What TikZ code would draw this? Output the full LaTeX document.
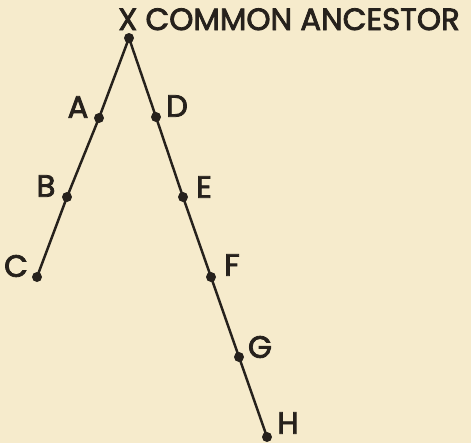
\documentclass[tikz,border=0pt]{standalone}
\usepackage{fontspec}
\setmainfont{Poppins}
\newfontfamily\lblfont{Poppins}[FakeBold=2.6]
\usetikzlibrary{positioning}
\definecolor{paper}{RGB}{246,235,204}
\definecolor{ink}{RGB}{38,33,28}
\newcommand{\unitpx}{*0.02cm}
\tikzset{
    pt/.style={circle, fill=ink, inner sep=0pt, minimum size=10\unitpx},
    lbl/.style={text=ink, inner sep=0pt, font=\fontsize{17.5}{18}\lblfont},
    lblL/.style={label={[lbl, xshift=-21\unitpx, yshift=11\unitpx]center:#1}},
}
\begin{document}
\begin{tikzpicture}[x=0.02cm, y=-0.02cm, line width=1.4pt]
    % 背景
    \fill[paper] (0,0) rectangle (471,443);
    \useasboundingbox (0,0) rectangle (471,443);

    % 共同祖先
    \node[pt] (x) at (129,38) {};
    \node[lbl, anchor=base west] (xname) at (117,30) {X COMMON ANCESTOR};

    % 左支
    \node[pt, lblL=A] (a) at (99,118) {};
    \node[pt, lblL=B] (b) at (67,197) {};
    \node[pt, lblL=C] (c) at (37,277) {};

    % 右支
    \node[pt, label={[lbl, xshift=21\unitpx, yshift=11\unitpx]center:D}] (d) at (156,117) {};
    \node[pt, label={[lbl, xshift=21\unitpx, yshift=10\unitpx]center:E}] (e) at (183,197) {};
    \node[pt, label={[lbl, xshift=21\unitpx, yshift=12\unitpx]center:F}] (f) at (211,277) {};
    \node[pt, label={[lbl, xshift=21\unitpx, yshift=10\unitpx]center:G}] (g) at (239,357) {};
    \node[pt, label={[lbl, xshift=21\unitpx, yshift=14\unitpx]center:H}] (h) at (267,437) {};

    \draw[ink] (x.center) -- (a.center) -- (b.center) -- (c.center);
    \draw[ink] (x.center) -- (d.center) -- (e.center) -- (f.center) -- (g.center) -- (h.center);
\end{tikzpicture}
\end{document}
